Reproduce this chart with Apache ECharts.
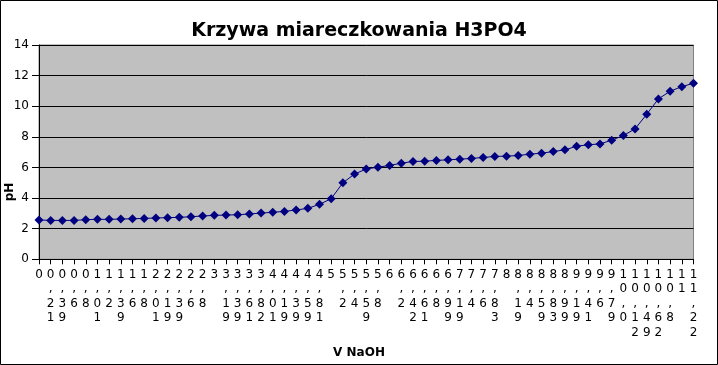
<!DOCTYPE html>
<html><head><meta charset="utf-8">
<script src="https://cdn.jsdelivr.net/npm/echarts@6/dist/echarts.min.js"></script>
<style>html,body{margin:0;padding:0;background:#fff}#c{width:718px;height:365px}</style>
</head><body><div id="c"></div>
<script>
const categories = ["0","0,21","0,39","0,6","0,8","1,01","1,2","1,39","1,6","1,8",
"2,01","2,19","2,39","2,6","2,8","3","3,19","3,39","3,61","3,82",
"4,01","4,19","4,39","4,59","4,81","5","5,2","5,4","5,59","5,8",
"6","6,2","6,42","6,61","6,8","6,99","7,19","7,4","7,6","7,83",
"8","8,19","8,4","8,59","8,83","8,99","9,19","9,41","9,6","9,79",
"10,0","10,12","10,49","10,62","10,8","11","11,22"];
const phValues = [2.57,2.54,2.54,2.54,2.59,2.61,2.61,2.63,2.65,2.67,
2.70,2.72,2.74,2.78,2.83,2.87,2.89,2.91,2.96,3.02,
3.07,3.13,3.22,3.33,3.59,3.96,5.0,5.57,5.90,6.02,
6.13,6.28,6.39,6.41,6.46,6.50,6.54,6.59,6.65,6.72,
6.74,6.78,6.87,6.93,7.04,7.15,7.39,7.48,7.54,7.78,
8.09,8.52,9.48,10.48,10.98,11.28,11.5];
const titleText = "Krzywa miareczkowania H3PO4";
const xName = "V NaOH";
const yName = "pH";

const chart = echarts.init(document.getElementById('c'), null, {renderer:'canvas'});
const font = 'DejaVu Sans';
chart.setOption({
  backgroundColor:'#fff',
  animation:false,
  title:{text:titleText,left:'center',top:17,textStyle:{fontFamily:font,fontSize:19,fontWeight:'bold',color:'#000'}},
  grid:{left:39,right:24.5,top:45,bottom:105.7,show:true,backgroundColor:'#C0C0C0',borderColor:'#808080',borderWidth:1},
  xAxis:{type:'category',data:categories,boundaryGap:false,
    axisLine:{lineStyle:{color:'#000',width:1}},
    axisTick:{show:true,interval:0,length:5,lineStyle:{color:'#000'}},
    axisLabel:{interval:0,margin:8,fontFamily:font,fontSize:12,color:'#000',lineHeight:14.5,
      formatter:v=>v.split('').join('\n')},
    splitLine:{show:false}},
  yAxis:{type:'value',min:0,max:14,interval:2,
    axisLine:{show:true,lineStyle:{color:'#000',width:1}},
    axisTick:{show:true,length:7,lineStyle:{color:'#000'}},
    axisLabel:{margin:10,fontFamily:font,fontSize:12,color:'#000'},
    splitLine:{show:true,lineStyle:{color:'#000',width:1}}},
  graphic:[
    {type:'rect',shape:{x:0.5,y:0.5,width:717,height:364},style:{fill:'none',stroke:'#000',lineWidth:1},silent:true},
    {type:'text',x:10,y:192,rotation:Math.PI/2,style:{text:yName,font:'bold 12px DejaVu Sans',fill:'#000',align:'center',verticalAlign:'middle'}},
    {type:'text',x:359,y:352.5,style:{text:xName,font:'bold 12px DejaVu Sans',fill:'#000',align:'center',verticalAlign:'middle'}}
  ],
  series:[{type:'line',data:phValues,symbol:'diamond',symbolSize:9,
    lineStyle:{color:'#000080',width:1},itemStyle:{color:'#000080'}}]
});
</script></body></html>
